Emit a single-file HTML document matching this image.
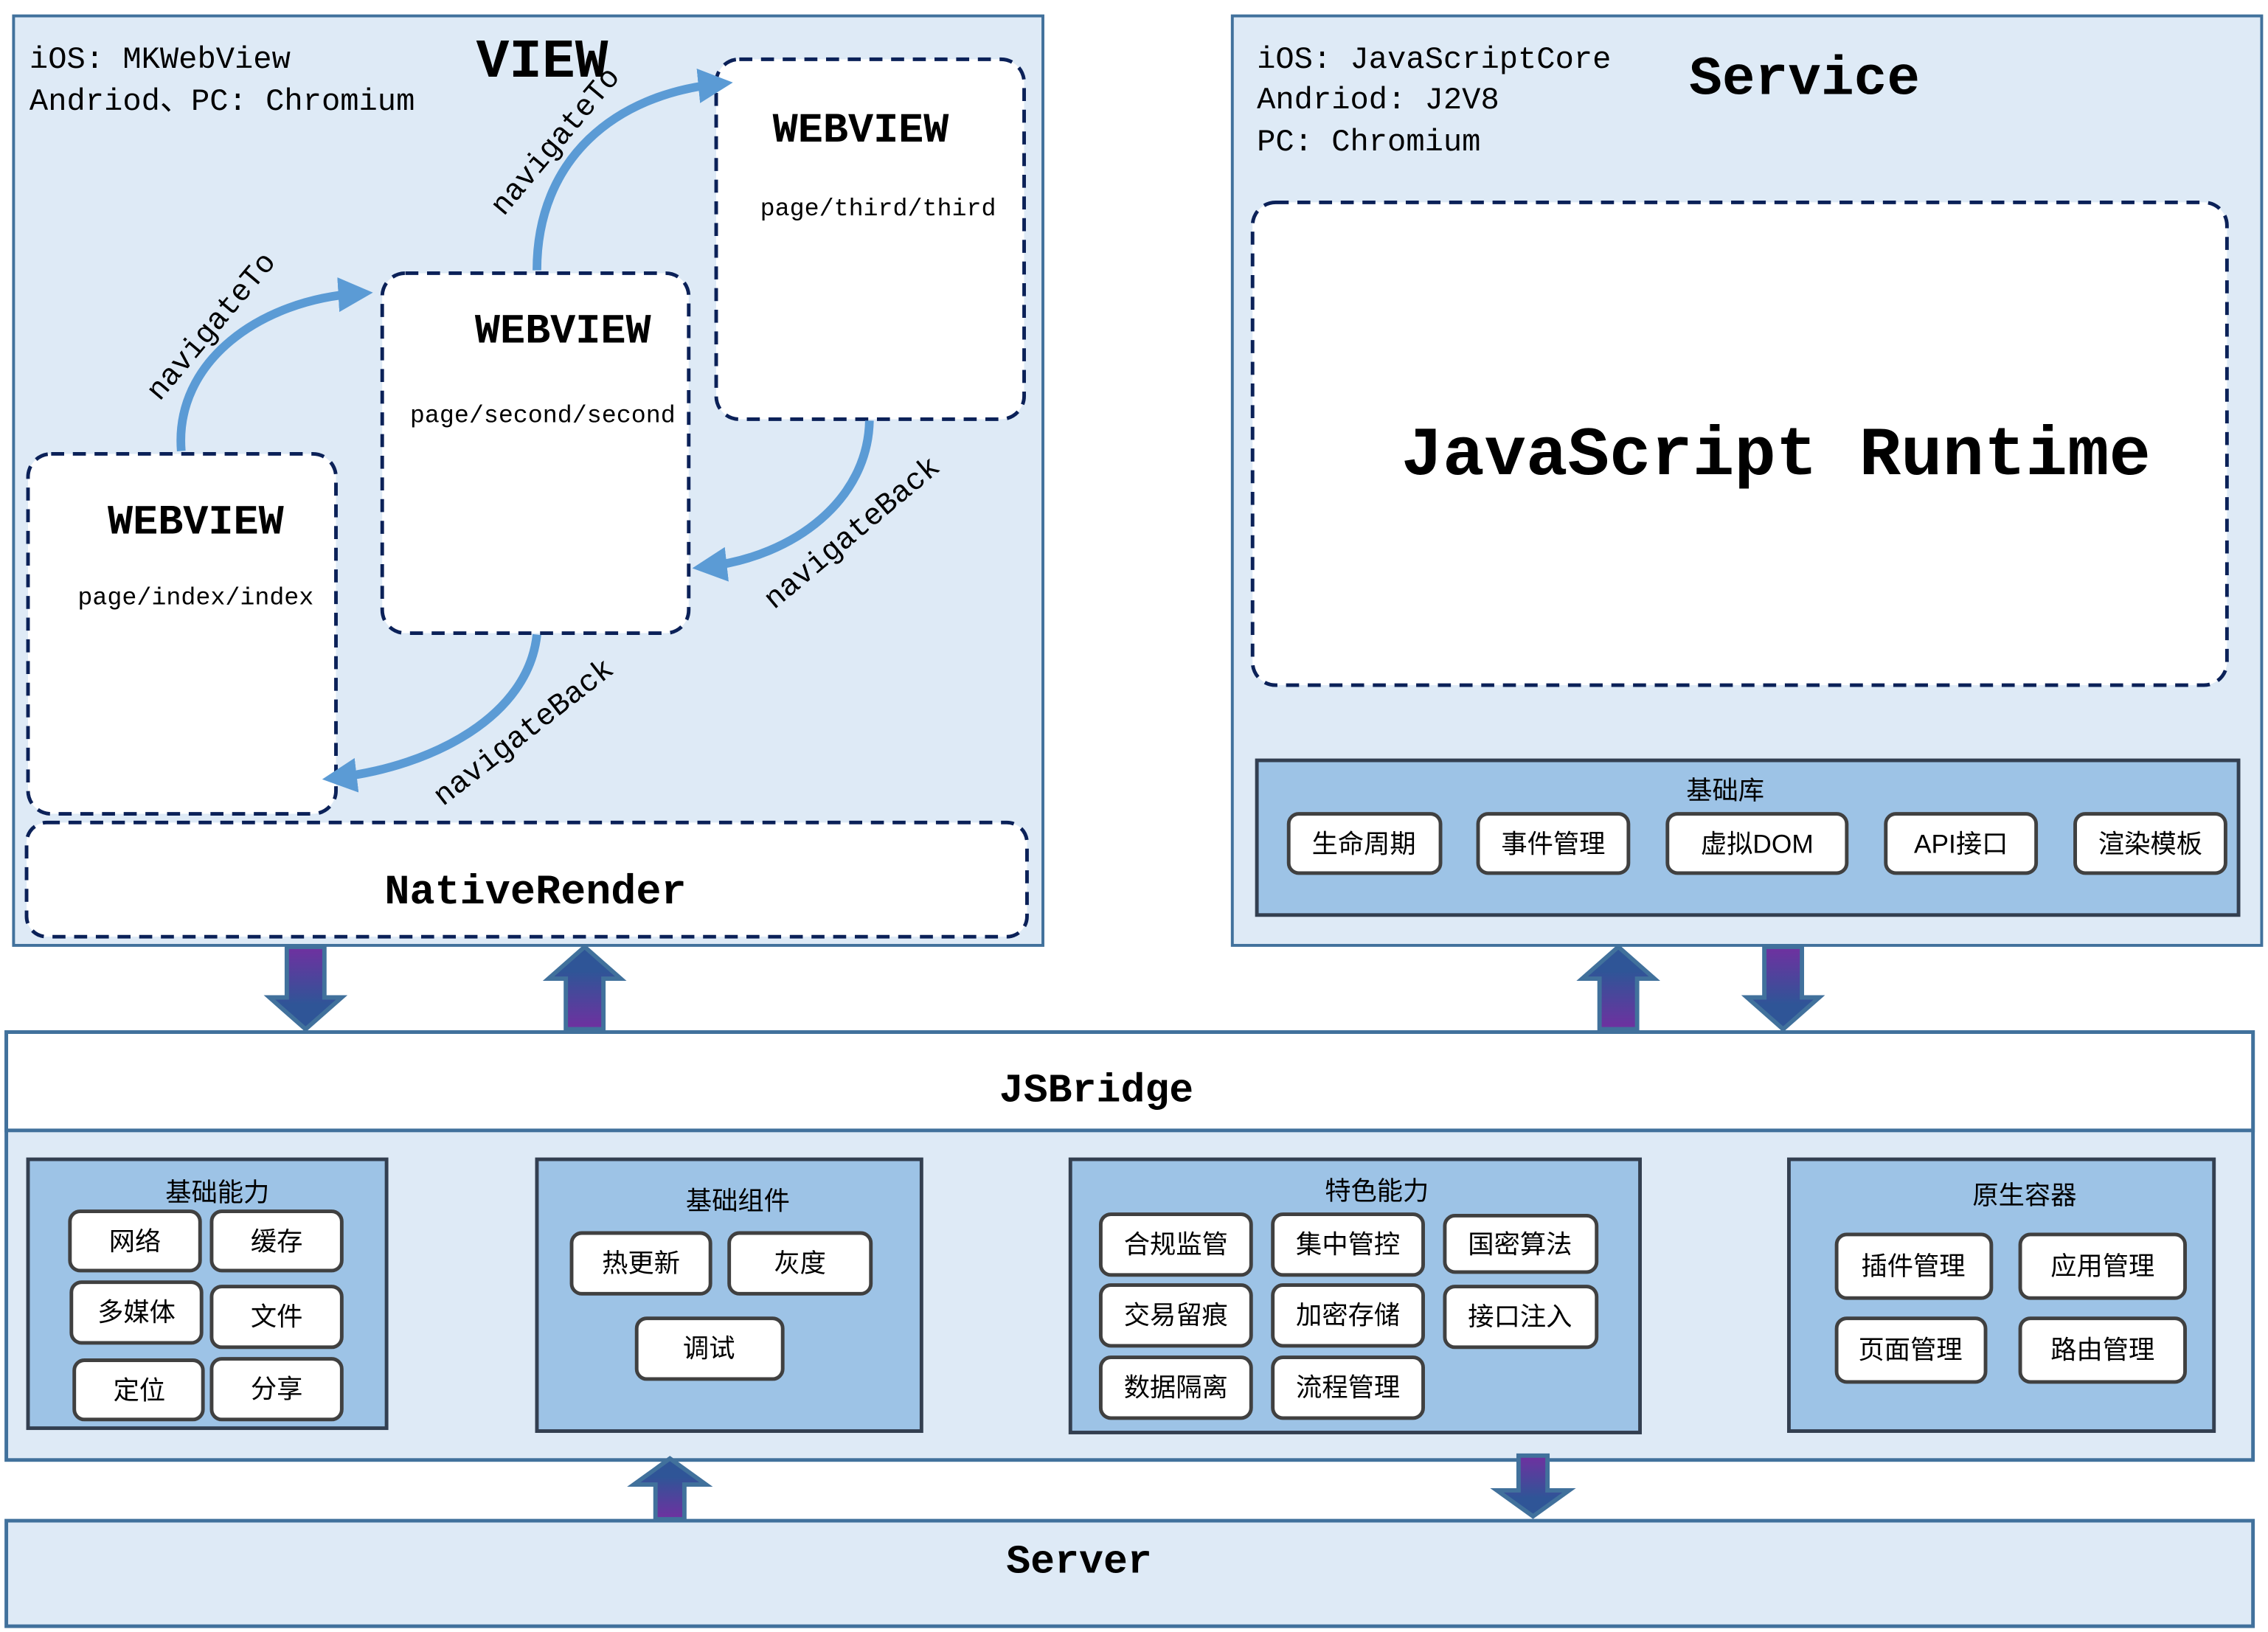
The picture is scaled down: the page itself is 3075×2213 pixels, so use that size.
<!DOCTYPE html>
<html><head><meta charset="utf-8"><style>
html,body{margin:0;padding:0;background:#fff;}
svg{display:block;}
.mono{font-family:"Liberation Mono","DejaVu Sans Mono",monospace;}
.cjk{font-family:"Liberation Sans","Noto Sans CJK SC",sans-serif;}
</style></head><body>
<svg width="3075" height="2213" viewBox="0 0 1568 1129" xmlns="http://www.w3.org/2000/svg">
<defs>
<linearGradient id="gd" x1="0" y1="0" x2="0" y2="1"><stop offset="0" stop-color="#7030a0"/><stop offset="0.7" stop-color="#2f5597"/></linearGradient>
<linearGradient id="gu" x1="0" y1="1" x2="0" y2="0"><stop offset="0" stop-color="#7030a0"/><stop offset="0.7" stop-color="#2f5597"/></linearGradient>
<marker id="ah" viewBox="0 0 10 10" refX="6" refY="5" markerWidth="4" markerHeight="4" orient="auto"><path d="M0,0 L10,5 L0,10 z" fill="#5b9bd5"/></marker>
</defs>
<!-- VIEW -->
<rect x="9" y="11" width="712" height="643" fill="#deeaf6" stroke="#41719c" stroke-width="2"/>
<!-- Service -->
<rect x="852" y="11" width="712" height="643" fill="#deeaf6" stroke="#41719c" stroke-width="2"/>
<text x="20" y="47" class="mono" font-size="21.5">iOS: MKWebView</text>
<text x="20" y="76" class="mono" font-size="21.5">Andriod、PC: Chromium</text>
<text x="329" y="53" class="mono" font-size="38" font-weight="bold">VIEW</text>
<g fill="#fff" stroke="#0b2158" stroke-width="2.5" stroke-dasharray="9,6">
<rect x="19" y="314" width="213" height="249" rx="16"/>
<rect x="264" y="189" width="212" height="249" rx="16"/>
<rect x="495" y="41" width="213" height="249" rx="16"/>
<rect x="18" y="569" width="692" height="79" rx="14"/>
<rect x="866" y="140" width="674" height="334" rx="16"/>
</g>
<g class="mono" font-weight="bold" font-size="29" text-anchor="middle">
<text x="135" y="369">WEBVIEW</text><text x="389" y="237">WEBVIEW</text><text x="595" y="98">WEBVIEW</text>
<text x="370" y="625">NativeRender</text>
</g>
<g class="mono" font-size="17" text-anchor="middle">
<text x="135" y="418">page/index/index</text><text x="375" y="292">page/second/second</text><text x="607" y="149">page/third/third</text>
</g>
<g fill="none" stroke="#5b9bd5" stroke-width="6" marker-end="url(#ah)">
<path d="M125,312 C120,250 180,207 248,203"/>
<path d="M371,187 C371,110 425,65 497,58"/>
<path d="M601,291 C600,345 550,385 488,392"/>
<path d="M371,439 C365,495 300,530 232,538"/>
</g>
<g class="mono" font-size="21">
<text transform="translate(110,278) rotate(-50)">navigateTo</text>
<text transform="translate(348,150) rotate(-50)">navigateTo</text>
<text transform="translate(535,422) rotate(-40)">navigateBack</text>
<text transform="translate(306,558) rotate(-38)">navigateBack</text>
</g>
<text x="869" y="47" class="mono" font-size="21.5">iOS: JavaScriptCore</text>
<text x="869" y="75" class="mono" font-size="21.5">Andriod: J2V8</text>
<text x="869" y="104" class="mono" font-size="21.5">PC: Chromium</text>
<text x="1168" y="65" class="mono" font-size="38" font-weight="bold">Service</text>
<text x="1228" y="328" class="mono" font-size="48" font-weight="bold" text-anchor="middle">JavaScript Runtime</text>
<rect x="869" y="526" width="679" height="107" fill="#9dc3e6" stroke="#333f50" stroke-width="2.5"/>
<text x="1193" y="553" class="cjk" font-size="18" text-anchor="middle">基础库</text>
<!-- JSBridge -->
<rect x="4" y="714" width="1554" height="296" fill="#deeaf6" stroke="#41719c" stroke-width="2.5"/>
<rect x="4" y="714" width="1554" height="68" fill="#fff" stroke="#41719c" stroke-width="2.5"/>
<text x="758" y="762" class="mono" font-size="28" font-weight="bold" text-anchor="middle">JSBridge</text>
<rect x="4" y="1052" width="1554" height="73" fill="#deeaf6" stroke="#41719c" stroke-width="2.5"/>
<text x="746" y="1088" class="mono" font-size="28" font-weight="bold" text-anchor="middle">Server</text>
<g fill="#9dc3e6" stroke="#333f50" stroke-width="2.5">
<rect x="19" y="802" width="248" height="186"/>
<rect x="371" y="802" width="266" height="188"/>
<rect x="740" y="802" width="394" height="189"/>
<rect x="1237" y="802" width="294" height="188"/>
</g>
<g class="cjk" font-size="18" text-anchor="middle">
<text x="150" y="831">基础能力</text><text x="510" y="837">基础组件</text><text x="952" y="830">特色能力</text><text x="1400" y="833">原生容器</text>
</g>
<!-- buttons -->
<g fill="#fff" stroke="#404040" stroke-width="2.5">
<rect x="891" y="563" width="105" height="41" rx="7"/><rect x="1022" y="563" width="104" height="41" rx="7"/><rect x="1153" y="563" width="124" height="41" rx="7"/><rect x="1304" y="563" width="104" height="41" rx="7"/><rect x="1435" y="563" width="104" height="41" rx="7"/>
<rect x="48" y="838" width="90" height="41" rx="7"/><rect x="146" y="838" width="90" height="41" rx="7"/>
<rect x="49" y="887" width="90" height="42" rx="7"/><rect x="146" y="890" width="90" height="42" rx="7"/>
<rect x="51" y="941" width="89" height="41" rx="7"/><rect x="146" y="940" width="90" height="42" rx="7"/>
<rect x="395" y="853" width="96" height="42" rx="7"/><rect x="504" y="853" width="98" height="42" rx="7"/><rect x="440" y="912" width="101" height="42" rx="7"/>
<rect x="761" y="840" width="104" height="42" rx="7"/><rect x="880" y="840" width="104" height="42" rx="7"/><rect x="999" y="841" width="105" height="39" rx="7"/>
<rect x="761" y="889" width="104" height="42" rx="7"/><rect x="880" y="889" width="104" height="42" rx="7"/><rect x="999" y="890" width="105" height="42" rx="7"/>
<rect x="761" y="939" width="104" height="42" rx="7"/><rect x="880" y="939" width="104" height="42" rx="7"/>
<rect x="1270" y="854" width="107" height="44" rx="7"/><rect x="1397" y="854" width="114" height="44" rx="7"/>
<rect x="1270" y="912" width="103" height="44" rx="7"/><rect x="1397" y="912" width="114" height="44" rx="7"/>
</g>
<g class="cjk" font-size="18" text-anchor="middle">
<text x="943" y="590">生命周期</text><text x="1074" y="590">事件管理</text><text x="1215" y="590">虚拟DOM</text><text x="1356" y="590">API接口</text><text x="1487" y="590">渲染模板</text>
<text x="93" y="865">网络</text><text x="191" y="865">缓存</text>
<text x="94" y="914">多媒体</text><text x="191" y="917">文件</text>
<text x="96" y="968">定位</text><text x="191" y="967">分享</text>
<text x="443" y="880">热更新</text><text x="553" y="880">灰度</text><text x="490" y="939">调试</text>
<text x="813" y="867">合规监管</text><text x="932" y="867">集中管控</text><text x="1051" y="867">国密算法</text>
<text x="813" y="916">交易留痕</text><text x="932" y="916">加密存储</text><text x="1051" y="917">接口注入</text>
<text x="813" y="966">数据隔离</text><text x="932" y="966">流程管理</text>
<text x="1323" y="882">插件管理</text><text x="1454" y="882">应用管理</text>
<text x="1321" y="940">页面管理</text><text x="1454" y="940">路由管理</text>
</g>
<!-- block arrows -->
<g stroke="#41719c" stroke-width="3">
<path d="M198,655 H224 V690 H236 L211,712 L186,690 H198 Z" fill="url(#gd)"/>
<path d="M391,712 H417 V677 H429 L404,655 L379,677 H391 Z" fill="url(#gu)"/>
<path d="M1106,712 H1132 V677 H1144 L1119,655 L1094,677 H1106 Z" fill="url(#gu)"/>
<path d="M1220,655 H1246 V690 H1258 L1233,712 L1208,690 H1220 Z" fill="url(#gd)"/>
<path d="M453,1051 H473 V1027 H488 L463,1009 L438,1027 H453 Z" fill="url(#gu)"/>
<path d="M1050,1007 H1070 V1031 H1085 L1060,1049 L1035,1031 H1050 Z" fill="url(#gd)"/>
</g>
</svg>
</body></html>
